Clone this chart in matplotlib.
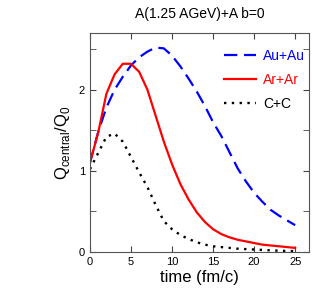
import matplotlib
matplotlib.use("Agg")
import matplotlib.pyplot as plt

plt.rcParams['font.family'] = ['Liberation Sans', 'DejaVu Sans']
plt.rcParams['mathtext.fontset'] = 'custom'
plt.rcParams['mathtext.rm'] = 'Liberation Sans'

# =======================
# data
# =======================
t = list(range(0, 26))

au_au = [1.10, 1.48, 1.78, 2.00, 2.16, 2.30, 2.40, 2.47, 2.52, 2.51,
         2.42, 2.29, 2.14, 1.98, 1.80, 1.60, 1.43, 1.23, 1.03, 0.87,
         0.73, 0.62, 0.52, 0.45, 0.39, 0.33]

ar_ar = [1.10, 1.47, 1.95, 2.19, 2.32, 2.32, 2.22, 2.00, 1.68, 1.36,
         1.08, 0.84, 0.65, 0.49, 0.37, 0.28, 0.22, 0.18, 0.15, 0.13,
         0.11, 0.09, 0.08, 0.07, 0.06, 0.05]

c_c = [1.02, 1.22, 1.42, 1.46, 1.36, 1.17, 0.98, 0.80, 0.58, 0.38,
       0.28, 0.21, 0.16, 0.12, 0.09, 0.07, 0.06, 0.05, 0.04, 0.035,
       0.03, 0.025, 0.02, 0.015, 0.012, 0.01]

labels = ['Au+Au', 'Ar+Ar', 'C+C']
colors = ['blue', 'red', 'black']

# =======================
# plot
# =======================
fig = plt.figure(figsize=(3.32, 3.08), dpi=100)
ax = fig.add_axes([0.271, 0.182, 0.660, 0.711])

ax.plot(t, au_au, color=colors[0], lw=1.6, dashes=(6, 3), label=labels[0])
ax.plot(t, ar_ar, color=colors[1], lw=1.6, label=labels[1])
ax.plot(t, c_c, color=colors[2], lw=1.7, linestyle=(0, (1, 2.3)), label=labels[2])

ax.set_xlim(0, 26.7)
ax.set_ylim(0, 2.7)
ax.set_xticks([0, 5, 10, 15, 20, 25])
ax.set_yticks([0, 1, 2])
ax.set_yticks([0.5, 1.5, 2.5], minor=True)
ax.tick_params(which='both', direction='in', top=True, right=True,
               color='#444444', labelsize=8)
ax.tick_params(which='major', length=4)
ax.tick_params(which='minor', length=4)
for s in ax.spines.values():
    s.set_color('#555555')

ax.set_xlabel('time (fm/c)', fontsize=12, labelpad=2)
ax.set_ylabel(r'Q$_{\rm central}$/Q$_0$', fontsize=12, labelpad=5)
ax.set_title('A(1.25 AGeV)+A b=0', fontsize=10, pad=11)

leg = ax.legend(loc='upper right', bbox_to_anchor=(1.0, 0.948), frameon=False,
                fontsize=10, handlelength=2.3, labelspacing=0.75,
                handletextpad=0.5, borderaxespad=0.0, borderpad=0.3)
for txt, c in zip(leg.get_texts(), colors):
    txt.set_color(c)

fig.savefig('out.png', dpi=100)
